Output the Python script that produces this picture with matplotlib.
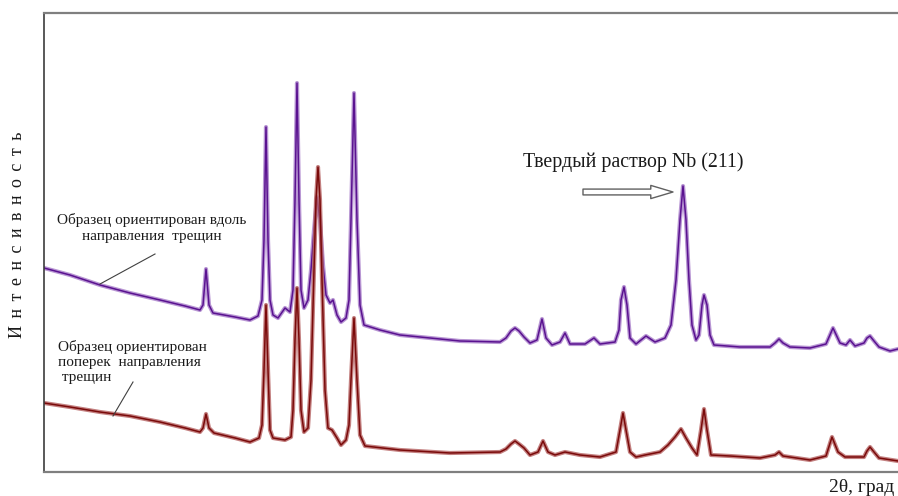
import matplotlib
matplotlib.use('Agg')
import matplotlib.pyplot as plt
import numpy as np

plt.rcParams['font.family'] = ['Liberation Serif', 'DejaVu Serif']

# дифрактограммы, отсчёты (x - позиция, I - интенсивность, усл. ед.)
x_along = [44, 70, 100, 130, 160, 185, 200, 203, 206, 209, 213, 235, 250, 258,
           262, 264, 266, 268, 270, 273, 278, 285, 290, 293, 295, 297, 299, 301,
           304, 308, 311, 314, 317, 320, 323, 326, 330, 333, 337, 341, 346, 349,
           351, 354, 357, 360, 364, 380, 400, 430, 460, 500, 506, 511, 515, 519,
           524, 530, 537, 542, 546, 552, 560, 565, 570, 585, 594, 600, 615, 619,
           621, 624, 627, 630, 636, 646, 655, 665, 671, 676, 680, 683, 686, 689,
           692, 696, 699, 702, 704, 707, 710, 714, 740, 770, 775, 779, 783, 790,
           810, 826, 833, 840, 846, 850, 855, 864, 867, 870, 874, 879, 890, 898]
i_along = [204, 197, 187, 179, 172, 166, 162, 167, 203, 167, 159, 155, 152, 156,
           172, 232, 345, 232, 172, 157, 154, 164, 160, 182, 272, 389, 272, 182,
           164, 172, 202, 242, 275, 252, 207, 177, 169, 172, 157, 150, 154, 172,
           252, 379, 252, 167, 147, 142, 137, 134, 131, 130, 134, 141, 144, 141,
           135, 129, 132, 153, 134, 127, 130, 139, 128, 128, 134, 128, 130, 142,
           172, 185, 167, 134, 128, 136, 130, 134, 147, 192, 252, 286, 252, 192,
           147, 132, 137, 167, 177, 167, 137, 127, 125, 125, 129, 133, 129, 125,
           124, 128, 144, 129, 127, 132, 126, 129, 134, 136, 131, 125, 121, 123]

x_across = [44, 70, 100, 130, 160, 185, 200, 203, 206, 209, 214, 235, 250, 259,
            262, 264, 266, 268, 270, 273, 285, 291, 293, 295, 297, 299, 301, 304,
            308, 311, 314, 316, 318, 320, 322, 325, 328, 332, 337, 341, 346, 349,
            351, 354, 357, 360, 365, 400, 450, 500, 506, 511, 515, 519, 524, 530,
            538, 543, 548, 555, 565, 580, 600, 616, 620, 623, 626, 630, 636, 645,
            660, 668, 675, 681, 686, 692, 697, 701, 704, 707, 711, 730, 760, 775,
            779, 783, 810, 826, 832, 838, 845, 864, 867, 870, 874, 879, 898]
i_across = [69, 65, 60, 56, 50, 44, 40, 44, 58, 44, 39, 34, 30, 34,
            47, 102, 167, 102, 42, 34, 32, 35, 62, 132, 184, 132, 62, 40,
            44, 92, 202, 272, 305, 272, 192, 82, 44, 42, 34, 27, 32, 47,
            92, 154, 92, 37, 26, 22, 19, 20, 23, 28, 31, 28, 24, 17,
            20, 31, 20, 17, 20, 17, 15, 20, 42, 59, 42, 20, 15, 17,
            20, 27, 35, 43, 34, 24, 17, 42, 63, 42, 17, 16, 14, 17,
            20, 16, 12, 16, 35, 20, 15, 15, 21, 25, 20, 14, 11]

fig = plt.figure(figsize=(8.98, 4.96), dpi=100)
ax = fig.add_axes([44 / 898, 24 / 496, 854 / 898, 459 / 496])

# широкая светлая полоса под линией - имитация шума
ax.plot(x_along, i_along, color='#a77cc9', linewidth=3.0, alpha=0.8)
ax.plot(x_along, i_along, color='#5a1290', linewidth=1.1)
ax.plot(x_across, i_across, color='#b46060', linewidth=3.0, alpha=0.8)
ax.plot(x_across, i_across, color='#7a0a0a', linewidth=1.1)

ax.set_xlim(44, 898)
ax.set_ylim(0, 459)
ax.set_xticks([])
ax.set_yticks([])
ax.spines['right'].set_visible(False)
ax.spines['top'].set_color('#7f7f7f')
ax.spines['top'].set_linewidth(1.6)
ax.spines['bottom'].set_color('#7f7f7f')
ax.spines['bottom'].set_linewidth(1.6)
ax.spines['left'].set_color('#3c3c3c')
ax.spines['left'].set_linewidth(1.2)

ax.text(152, 244, 'Образец ориентирован вдоль\nнаправления  трещин',
        ha='center', va='center', fontsize=11, linespacing=1.3, color='#1a1a1a')
ax.plot([155, 100], [218, 188], color='#404040', linewidth=0.8)

ax.text(58, 110, 'Образец ориентирован\nпоперек  направления\n трещин',
        ha='left', va='center', fontsize=11, linespacing=1.25, color='#1a1a1a')
ax.plot([133, 113], [90, 56], color='#404040', linewidth=0.8)

ax.text(523, 310, 'Твердый раствор Nb (211)', ha='left', va='center',
        fontsize=14.3, color='#1a1a1a')
ax.annotate('', xy=(673, 280), xytext=(583, 280),
            arrowprops=dict(arrowstyle='simple,head_length=1.6,head_width=0.95,tail_width=0.42',
                            fc='white', ec='#606060', lw=1.0, shrinkA=0, shrinkB=0))

ylab = ' \u2006'.join('Интенсивность')
fig.text(18 / 898, 1 - 235 / 496, ylab, rotation=90, ha='center', va='center',
         fontsize=13, color='#1a1a1a')
fig.text(829 / 898, 1 - 487 / 496, '2θ, град', ha='left', va='center',
         fontsize=14, color='#1a1a1a')

plt.savefig('out.png', dpi=100)
